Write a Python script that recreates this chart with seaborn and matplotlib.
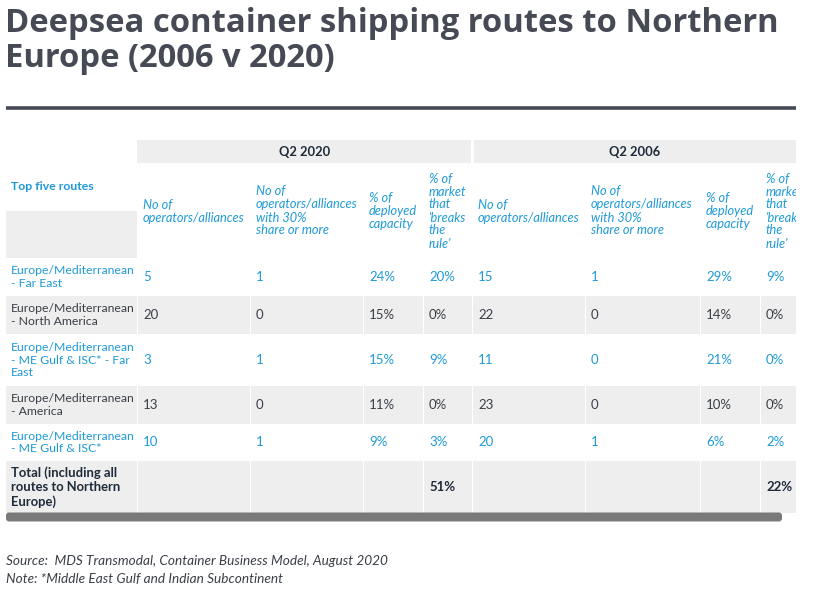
import matplotlib
matplotlib.use("Agg")
import matplotlib.pyplot as plt
from matplotlib.patches import Rectangle, FancyBboxPatch
import seaborn as sns

sns.set_theme(style="white")
plt.rcParams['font.family'] = ['Lato', 'DejaVu Sans']

# data
title = "Deepsea container shipping routes to Northern\nEurope (2006 v 2020)"
groups = ["Q2 2020", "Q2 2006"]
col_headers = ["No of\noperators/alliances",
               "No of\noperators/alliances\nwith 30%\nshare or more",
               "% of\ndeployed\ncapacity",
               "% of\nmarket\nthat\n'breaks\nthe\nrule'"]
routes = ["Europe/Mediterranean\n- Far East",
          "Europe/Mediterranean\n- North America",
          "Europe/Mediterranean\n- ME Gulf & ISC* - Far\nEast",
          "Europe/Mediterranean\n- America",
          "Europe/Mediterranean\n- ME Gulf & ISC*"]
total_label = "Total (including all\nroutes to Northern\nEurope)"
ops_2020 = [5, 20, 3, 13, 10]
big_2020 = [1, 0, 1, 0, 1]
cap_2020 = ["24%", "15%", "15%", "11%", "9%"]
brk_2020 = ["20%", "0%", "9%", "0%", "3%"]
ops_2006 = [15, 22, 11, 23, 20]
big_2006 = [1, 0, 0, 0, 1]
cap_2006 = ["29%", "14%", "21%", "10%", "6%"]
brk_2006 = ["9%", "0%", "0%", "0%", "2%"]
total_2020 = "51%"
total_2006 = "22%"
source = "Source:  MDS Transmodal, Container Business Model, August 2020"
note = "Note: *Middle East Gulf and Indian Subcontinent"

BLUE = "#1f9ad8"
DARK = "#3a3f47"
NAVY = "#1d2b3a"
GREY = "#eeeeee"
TITLE_C = "#464a55"

# layout (pixels)
col_x = [6, 137, 250, 363, 423, 472, 585, 700, 760, 796]
row_y = [258, 296, 334, 386, 424, 461, 513]

fig = plt.figure(figsize=(8.16, 5.94), dpi=100)
ax = fig.add_axes([0, 0, 796 / 816, 1])
ax.set_xlim(0, 796)
ax.set_ylim(594, 0)
ax.axis("off")

fig.text(5 / 816, 1 - 7 / 594, title, fontsize=23.6, fontweight="bold",
         color=TITLE_C, va="top", ha="left", linespacing=1.07,
         family=["Open Sans", "DejaVu Sans"])
ax.plot([6, 796], [108, 108], color=TITLE_C, lw=2.6, solid_capstyle="butt")

# group header
ax.add_patch(Rectangle((137, 140), 472 - 137 - 1, 23, color=GREY, lw=0))
ax.add_patch(Rectangle((474, 140), 796 - 474, 23, color=GREY, lw=0))
ax.text((137 + 472) / 2, 152, groups[0], ha="center", va="center",
        fontsize=9.3, fontweight="bold", color=NAVY)
ax.text((474 + 796) / 2, 152, groups[1], ha="center", va="center",
        fontsize=9.3, fontweight="bold", color=NAVY)

ax.text(11, 187, "Top five routes", ha="left", va="center", fontsize=8.8,
        fontweight="bold", color=BLUE)
ax.add_patch(Rectangle((6, 211), 131, 47, color=GREY, lw=0))

for g in range(2):
    for k, h in enumerate(col_headers):
        ci = 1 + g * 4 + k
        ax.text(col_x[ci] + 6, 211, h, ha="left", va="center", fontsize=9.2,
                style="italic", color=BLUE, linespacing=1.1, clip_on=True)

rows = list(zip(routes, ops_2020, big_2020, cap_2020, brk_2020,
                ops_2006, big_2006, cap_2006, brk_2006))
rows.append((total_label, "", "", "", total_2020, "", "", "", total_2006))

for r, cells in enumerate(rows):
    y0, y1 = row_y[r], row_y[r + 1]
    shaded = r % 2 == 1
    is_total = r == len(rows) - 1
    color = NAVY if is_total else (DARK if shaded else BLUE)
    weight = "bold" if is_total else "normal"
    for c, val in enumerate(cells):
        if shaded:
            ax.add_patch(Rectangle((col_x[c] + (1 if c else 0), y0),
                                   col_x[c + 1] - col_x[c] - (1 if c else 0),
                                   y1 - y0, color=GREY, lw=0))
        if c == 0:
            size = 9.4 if is_total else 8.8
        else:
            size = 9.5
        ax.text(col_x[c] + (5 if c == 0 else 6), (y0 + y1) / 2, str(val),
                ha="left", va="center", fontsize=size, color=color,
                fontweight=weight, linespacing=1.18, clip_on=True)

ax.add_patch(FancyBboxPatch((9, 515.5), 770, 3, boxstyle="round,pad=3",
                            color="#7a7a7a", lw=0))

for i, t in enumerate([source, note]):
    ax.text(6, 561 + 18 * i, t, ha="left", va="center", fontsize=9.8,
            style="italic", color=DARK)

fig.savefig("out.png", dpi=100)
